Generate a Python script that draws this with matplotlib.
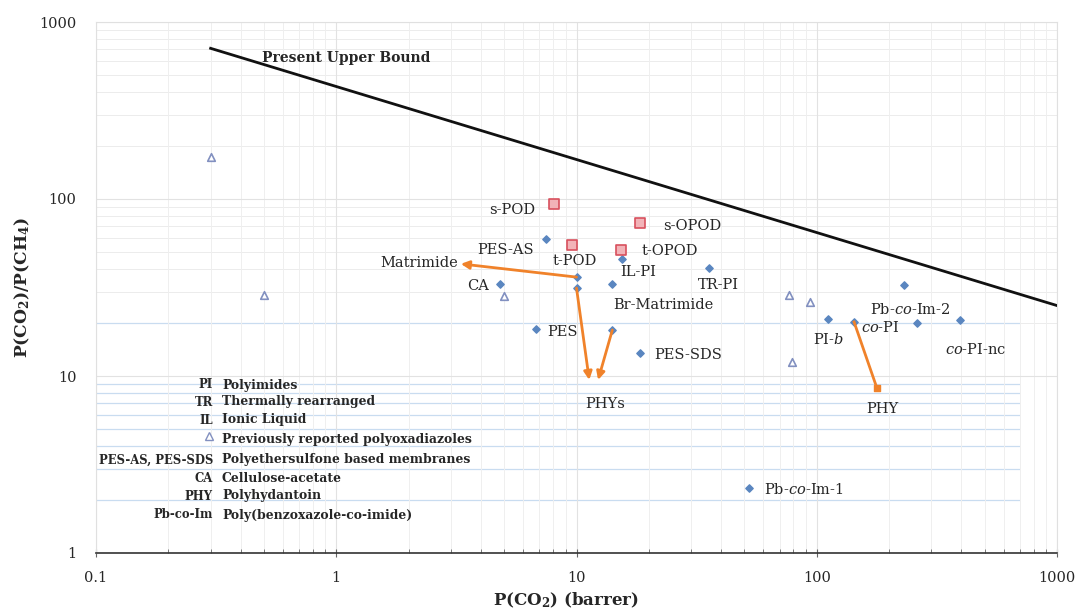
import matplotlib.pyplot as plt
from matplotlib.ticker import LogLocator, FixedLocator, NullFormatter

plt.rcParams['font.family'] = 'DejaVu Serif'
plt.rcParams['mathtext.fontset'] = 'dejavuserif'

# upper bound line
bound_x = [0.3, 1000]
bound_y = [710, 25]

# polymers from literature (blue diamonds)
lit_x = [7.5, 15.5, 10.0, 10.0, 14.1, 35.6, 4.8, 6.8, 14.1, 18.4, 111, 143, 231, 261, 395, 52.2]
lit_y = [59.4, 45.8, 36.2, 31.4, 33.1, 40.7, 33.0, 18.5, 18.2, 13.5, 21.0, 20.2, 32.7, 20.0, 20.7, 2.33]

# previously reported polyoxadiazoles (open triangles)
pod_old_x = [0.3, 0.5, 5.0, 77, 94, 79]
pod_old_y = [172, 28.7, 28.3, 28.7, 26.2, 12.0]

# this work (red squares)
pod_names = ['s-POD', 't-POD', 's-OPOD', 't-OPOD']
pod_x = [8.05, 9.57, 18.4, 15.3]
pod_y = [93.8, 55.0, 73.0, 51.5]

# arrows: (from x, from y, to x, to y)
arrow_from_x = [10.0, 10.0, 14.1]
arrow_from_y = [36.2, 31.4, 18.2]
arrow_to_x = [3.3, 11.3, 12.3]
arrow_to_y = [43.0, 9.5, 9.5]

# co-PI -> PHY
phy_from = (143, 20.2)
phy_to = (178, 8.55)

legend_abbr = ['PI', 'TR', 'IL', '', 'PES-AS, PES-SDS', 'CA', 'PHY', 'Pb-co-Im']
legend_desc = ['Polyimides', 'Thermally rearranged', 'Ionic Liquid',
               'Previously reported polyoxadiazoles', 'Polyethersulfone based membranes',
               'Cellulose-acetate', 'Polyhydantoin', 'Poly(benzoxazole-co-imide)']
legend_py = [385, 402, 420, 439, 460, 479, 496, 515]

blue = '#5a86c0'
orange = '#f0822a'
txt = '#262626'

fig = plt.figure(figsize=(10.8, 6.11), dpi=100)
ax = fig.add_axes([96 / 1080, 1 - 553 / 611, 961 / 1080, 531 / 611])
ax.set_xscale('log')
ax.set_yscale('log')
ax.set_xlim(0.1, 1000)
ax.set_ylim(1, 1000)

# grid
ax.grid(True, which='major', color='#e2e2e2', lw=0.8)
ax.grid(True, which='minor', axis='x', color='#efefef', lw=0.7)
ax.yaxis.set_minor_locator(LogLocator(base=10, subs=range(2, 10)))
for yy in [20, 30, 40, 50, 60, 70, 80, 90, 200, 300, 400, 500, 600, 700, 800, 900]:
    ax.axhline(yy, color='#ececec', lw=0.7, zorder=0)
for yy in [2, 3, 4, 5, 6, 7, 8, 9, 20]:
    ax.axhline(yy, xmin=0.0, xmax=0.96, color='#c9dcf0', lw=0.9, zorder=0)

for side in ['top', 'right', 'left']:
    ax.spines[side].set_color('#e0e0e0')
ax.spines['bottom'].set_color('#333333')
ax.spines['bottom'].set_linewidth(1.2)

ax.xaxis.set_major_locator(FixedLocator([0.1, 1, 10, 100, 1000]))
ax.set_xticklabels(['0.1', '1', '10', '100', '1000'])
ax.yaxis.set_major_locator(FixedLocator([1, 10, 100, 1000]))
ax.set_yticklabels(['1', '10', '100', '1000'])
ax.xaxis.set_minor_formatter(NullFormatter())
ax.yaxis.set_minor_formatter(NullFormatter())
ax.tick_params(axis='x', which='major', direction='inout', length=6, color='#666666',
               labelsize=10.5, labelcolor=txt, pad=10)
ax.tick_params(axis='x', which='minor', direction='in', length=3, color='#666666')
ax.tick_params(axis='y', which='both', length=0, labelsize=10.5, labelcolor=txt, pad=14)

# upper bound
ax.plot(bound_x, bound_y, color='#111111', lw=2, zorder=3)

# points
ax.scatter(lit_x, lit_y, marker='D', s=14, color=blue, zorder=4)
ax.scatter(pod_old_x, pod_old_y, marker='^', s=30, facecolor='white',
           edgecolor='#8290c0', linewidth=1.2, zorder=4)
ax.scatter(pod_x, pod_y, marker='s', s=55, facecolor='#f2b3b8',
           edgecolor='#d8505d', linewidth=1.2, zorder=5)

# arrows
for x0, y0, x1, y1 in zip(arrow_from_x, arrow_from_y, arrow_to_x, arrow_to_y):
    ax.annotate('', xy=(x1, y1), xytext=(x0, y0),
                arrowprops=dict(arrowstyle='-|>', color=orange, lw=2,
                                mutation_scale=12, shrinkA=0, shrinkB=0), zorder=4)
ax.plot([phy_from[0], phy_to[0]], [phy_from[1], phy_to[1]], color=orange, lw=2, zorder=4)
ax.scatter([phy_to[0]], [phy_to[1]], marker='s', s=22, color=orange, zorder=5)


def lab(px, py, s, ha='center', **kw):
    fig.text(px / 1080, 1 - py / 611, s, ha=ha, va='center', color=txt, **kw)


fs = 10.5
lab(262, 58, 'Present Upper Bound', ha='left', fontsize=10, fontweight='bold')
lab(512, 210, 's-POD', fontsize=fs)
lab(506, 250, 'PES-AS', fontsize=fs)
lab(419, 263, 'Matrimide', fontsize=fs)
lab(478, 286, 'CA', fontsize=fs)
lab(575, 261, 't-POD', fontsize=fs)
lab(692, 226, 's-OPOD', fontsize=fs)
lab(670, 251, 't-OPOD', fontsize=fs)
lab(638, 272, 'IL-PI', fontsize=fs)
lab(718, 285, 'TR-PI', fontsize=fs)
lab(663, 305, 'Br-Matrimide', fontsize=fs)
lab(562, 332, 'PES', fontsize=fs)
lab(688, 355, 'PES-SDS', fontsize=fs)
lab(605, 404, 'PHYs', fontsize=fs)
lab(910, 310, r'Pb-$\mathit{co}$-Im-2', fontsize=fs)
lab(880, 327, r'$\mathit{co}$-PI', fontsize=fs)
lab(828, 339, r'PI-$\mathit{b}$', fontsize=fs)
lab(976, 349, r'$\mathit{co}$-PI-nc', fontsize=fs)
lab(882, 409, 'PHY', fontsize=fs)
lab(764, 490, r'Pb-$\mathit{co}$-Im-1', ha='left', fontsize=fs)

# legend block
for abbr, desc, py in zip(legend_abbr, legend_desc, legend_py):
    if abbr:
        lab(213, py, abbr, ha='right', fontsize=8.4, fontweight='bold')
    lab(222, py, desc, ha='left', fontsize=8.9, fontweight='bold')
fig.lines.append(plt.Line2D([209 / 1080], [1 - 436 / 611], transform=fig.transFigure,
                            marker='^', markersize=6, markerfacecolor='white',
                            markeredgecolor='#8290c0', linestyle='none'))

# axis labels
fig.text(22 / 1080, 1 - 287 / 611, r'P(CO$_\mathbf{2}$)/P(CH$_\mathbf{4}$)', rotation=90,
         ha='center', va='center', fontsize=12.3, fontweight='bold', color=txt)
fig.text(566 / 1080, 1 - 600 / 611, r'P(CO$_\mathbf{2}$) (barrer)',
         ha='center', va='center', fontsize=12, fontweight='bold', color=txt)

fig.savefig('out.png', dpi=100)
